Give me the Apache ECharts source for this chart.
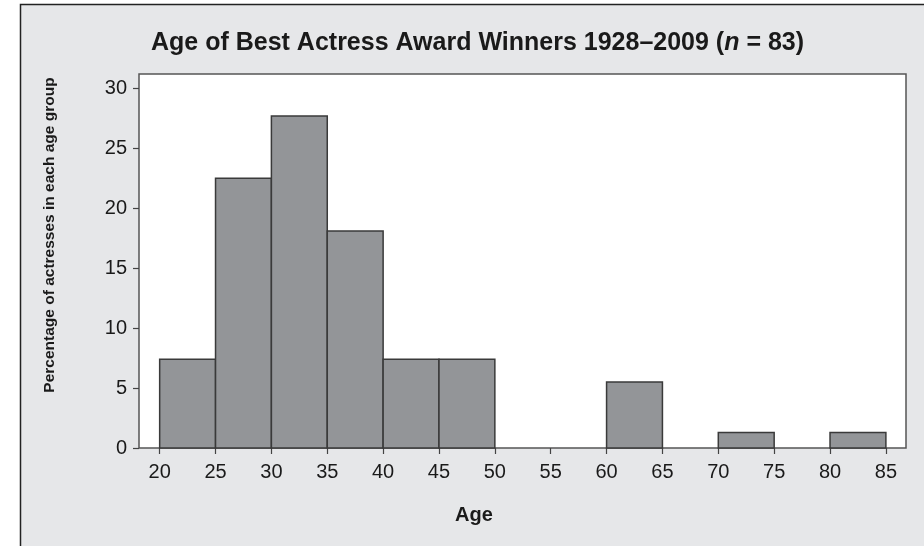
<!DOCTYPE html>
<html>
<head>
<meta charset="utf-8">
<title>Age of Best Actress Award Winners</title>
<script src="https://cdn.jsdelivr.net/npm/echarts@6/dist/echarts.min.js"></script>
<style>
	html, body { margin: 0; padding: 0; background: #fff; }
	#chart { width: 924px; height: 546px; }
</style>
</head>
<body>
<div id="chart"></div>
<script>
	// histogram bins (age, lower edge) and bin width
	var binStarts = [20, 25, 30, 35, 40, 45, 50, 55, 60, 65, 70, 75, 80];
	var binWidth = 5;
	// percentage of actresses in each age group
	var percents = [7.4, 22.5, 27.7, 18.1, 7.4, 7.4, 0, 0, 5.5, 0, 1.3, 0, 1.3];
	// tick labels
	var xTicks = [20, 25, 30, 35, 40, 45, 50, 55, 60, 65, 70, 75, 80, 85];
	var yTicks = [0, 5, 10, 15, 20, 25, 30];

	var font = '"Liberation Sans", Arial, sans-serif';

	var seriesData = binStarts.map(function (s, i) {
		return [s, s + binWidth, percents[i]];
	});

	var chart = echarts.init(document.getElementById('chart'));
	chart.setOption({
		backgroundColor: '#fff',
		animation: false,
		title: {
			left: 146,
			top: 26,
			text: '{b|Age of Best Actress Award Winners 1928\u20132009 (}{i|n}{b| = 83)}',
			textStyle: {
				rich: {
					b: { fontFamily: font, fontWeight: 'bold', fontSize: 25, color: '#1a1a1a' },
					i: { fontFamily: font, fontWeight: 'bold', fontStyle: 'italic', fontSize: 25, color: '#1a1a1a' }
				}
			}
		},
		graphic: [{
			// grey panel with its dark frame (top and left edges visible)
			type: 'rect',
			z: -100,
			silent: true,
			shape: { x: 20.5, y: 4.5, width: 1000, height: 1000 },
			style: { fill: '#e6e7e9', stroke: '#222', lineWidth: 1.5 }
		}, {
			type: 'text',
			x: 50,
			y: 235,
			rotation: Math.PI / 2,
			silent: true,
			style: {
				text: 'Percentage of actresses in each age group',
				x: 0, y: 0,
				font: 'bold 15.5px ' + font,
				fill: '#1a1a1a',
				textAlign: 'center', textVerticalAlign: 'middle',
				align: 'center', verticalAlign: 'middle'
			}
		}, {
			type: 'text',
			x: 474,
			y: 515,
			silent: true,
			style: {
				text: 'Age',
				x: 0, y: 0,
				font: 'bold 20px ' + font,
				fill: '#1a1a1a',
				textAlign: 'center', textVerticalAlign: 'middle',
				align: 'center', verticalAlign: 'middle'
			}
		}],
		grid: {
			left: 139,
			right: 18,
			top: 74,
			bottom: 98,
			show: true,
			backgroundColor: '#fff',
			borderColor: '#555',
			borderWidth: 1.5
		},
		xAxis: {
			type: 'value',
			min: 18.15,
			max: 86.8,
			splitLine: { show: false },
			axisLine: { show: false },
			axisTick: {
				show: true,
				customValues: xTicks,
				length: 6,
				lineStyle: { color: '#444', width: 1.2 }
			},
			axisLabel: {
				customValues: xTicks,
				margin: 14,
				fontFamily: font,
				fontSize: 20,
				color: '#1a1a1a'
			}
		},
		yAxis: {
			type: 'value',
			min: 0,
			max: 31.2,
			splitLine: { show: false },
			axisLine: { show: false },
			axisTick: {
				show: true,
				customValues: yTicks,
				length: 6,
				lineStyle: { color: '#444', width: 1.2 }
			},
			axisLabel: {
				customValues: yTicks,
				margin: 12,
				fontFamily: font,
				fontSize: 20,
				color: '#1a1a1a'
			}
		},
		series: [{
			type: 'custom',
			data: seriesData,
			encode: { x: [0, 1], y: 2 },
			renderItem: function (params, api) {
				var v = api.value(2);
				if (!v) return;
				var p0 = api.coord([api.value(0), v]);
				var p1 = api.coord([api.value(1), 0]);
				return {
					type: 'rect',
					shape: { x: p0[0], y: p0[1], width: p1[0] - p0[0], height: p1[1] - p0[1] },
					style: { fill: '#939598', stroke: '#3a3a3a', lineWidth: 1.5 }
				};
			}
		}]
	});
</script>
</body>
</html>
